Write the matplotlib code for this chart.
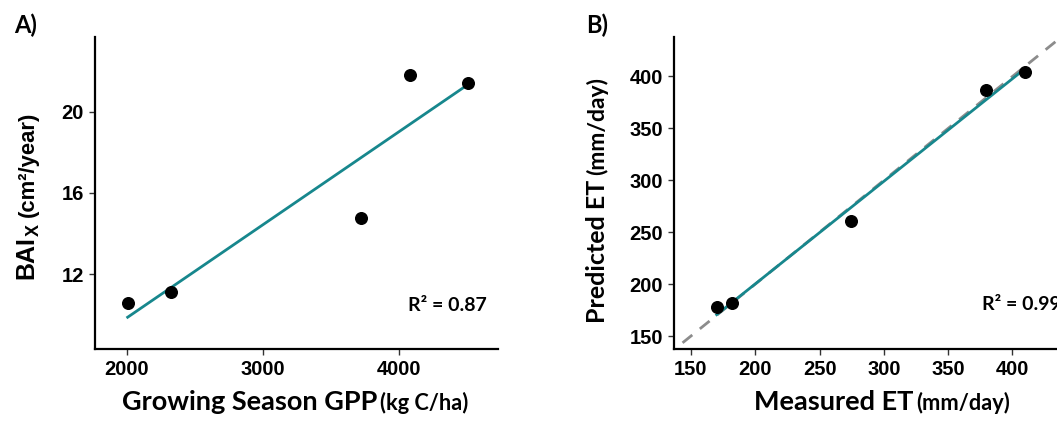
import numpy as np
import matplotlib.pyplot as plt

# Panel A: growing season GPP vs BAI
gpp = np.array([2005, 2321, 3721, 4081, 4511])
bai = np.array([10.58, 11.11, 14.75, 21.81, 21.45])
r2_a = 0.87

# Panel B: measured vs predicted ET
et_meas = np.array([170.0, 182.1, 274.2, 379.4, 409.7])
et_pred = np.array([177.6, 181.5, 260.6, 387.2, 404.6])
r2_b = 0.99

teal = '#17878d'
lab_font = 'Lato'
arial = 'Liberation Sans'

fig = plt.figure(figsize=(10.57, 4.28), dpi=100)
W, H = 1057, 428
axA = fig.add_axes([95 / W, 79 / H, 403 / W, 312 / H])
axB = fig.add_axes([674 / W, 79 / H, 416 / W, 312 / H])


def style(ax):
    for s in ['top', 'right']:
        ax.spines[s].set_visible(False)
    for s in ['left', 'bottom']:
        ax.spines[s].set_linewidth(1.6)
        ax.spines[s].set_color('black')
    ax.tick_params(direction='out', length=4, width=1, color='#333333',
                   labelsize=14.5, pad=4)
    for lab in ax.get_xticklabels() + ax.get_yticklabels():
        lab.set_fontfamily(arial)
        lab.set_fontweight('bold')


# --- A ---
k, b = np.polyfit(gpp, bai, 1)
xs = np.array([gpp.min(), gpp.max()])
axA.plot(xs, k * xs + b, color=teal, lw=2, zorder=2)
axA.scatter(gpp, bai, s=70, color='black', zorder=3)
axA.set_xlim(1765, 4728)
axA.set_ylim(8.3, 23.7)
axA.set_xticks([2000, 3000, 4000])
axA.set_yticks([12, 16, 20])
style(axA)
axA.text(4066, 10.47, 'R² = %.2f' % r2_a, fontsize=14, family=lab_font,
         weight='bold', va='center', ha='left')

# --- B ---
lim = np.array([130, 470])
axB.plot(lim, lim, color='#8c8c8c', lw=2, ls=(0, (4.5, 3.5)), zorder=1)
k2, b2 = np.polyfit(et_meas, et_pred, 1)
xs2 = np.array([et_meas.min(), et_meas.max()])
axB.plot(xs2, k2 * xs2 + b2, color=teal, lw=2, zorder=2)
axB.scatter(et_meas, et_pred, s=70, color='black', zorder=3)
axB.set_xlim(136.8, 460.3)
axB.set_ylim(137.5, 438)
axB.set_xticks(np.arange(150, 401, 50))
axB.set_yticks(np.arange(150, 401, 50))
style(axB)
axB.text(376, 180.8, 'R² = %.2f' % r2_b, fontsize=14, family=lab_font,
         weight='bold', va='center', ha='left', clip_on=False)


# axis titles: a large main part and a smaller unit part
def fx(px):
    return px / W


def fy(py):
    return 1 - py / H


big = dict(family=lab_font, weight='bold', fontsize=19.5)
small = dict(family=lab_font, weight='bold', fontsize=15.7)
rot = dict(rotation=90, rotation_mode='anchor', va='baseline', ha='left')

fig.text(fx(122), fy(410), 'Growing Season GPP', ha='left', va='baseline', **big)
fig.text(fx(380), fy(410), '(kg C/ha)', ha='left', va='baseline', **small)
fig.text(fx(754), fy(410), 'Measured ET', ha='left', va='baseline', **big)
fig.text(fx(916), fy(410), '(mm/day)', ha='left', va='baseline', **small)

# BAI with subscript X, then units
fig.text(fx(33), fy(279), 'BAI', **rot, family=arial, weight='bold', fontsize=18)
fig.text(fx(39), fy(236), 'X', **rot, family=arial, weight='bold', fontsize=13)
fig.text(fx(34), fy(217), '(cm²/year)', **rot, family=arial, weight='bold',
         fontsize=15.8)
fig.text(fx(605), fy(323), 'Predicted ET', **rot,
         family=lab_font, weight='bold', fontsize=18)
fig.text(fx(604), fy(175), '(mm/day)', **rot,
         family=lab_font, weight='bold', fontsize=16.5)

fig.text(fx(14), fy(33), 'A)', ha='left', va='baseline', family=lab_font,
         weight='bold', fontsize=17)
fig.text(fx(586), fy(33), 'B)', ha='left', va='baseline', family=lab_font,
         weight='bold', fontsize=17)

fig.savefig('out.png', dpi=100)
